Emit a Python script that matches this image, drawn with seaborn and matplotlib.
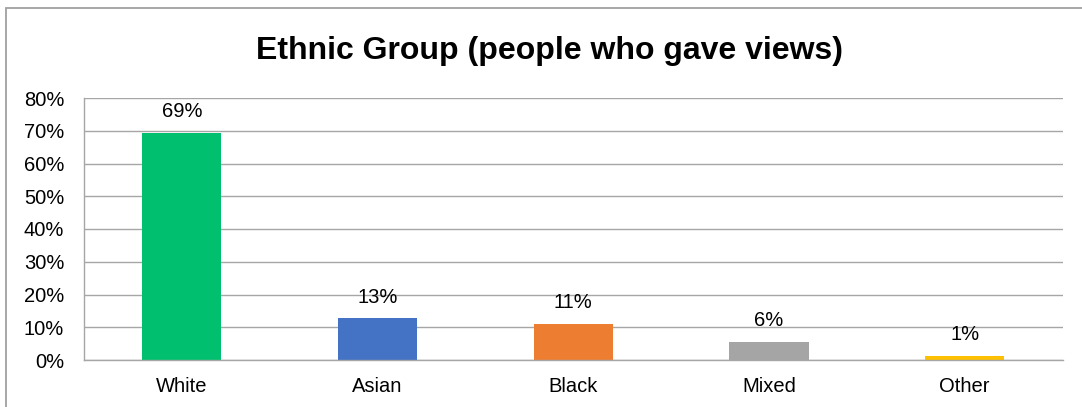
import matplotlib
matplotlib.use("Agg")
import matplotlib.pyplot as plt
import seaborn as sns
import pandas as pd
from matplotlib.patches import Rectangle
from matplotlib.ticker import PercentFormatter

# datos
grupos = ["White", "Asian", "Black", "Mixed", "Other"]
porcentajes = [0.693, 0.127, 0.11, 0.056, 0.012]
colores = ["#00BF6F", "#4472C4", "#ED7D31", "#A5A5A5", "#FFC000"]
yticks = [0, 0.1, 0.2, 0.3, 0.4, 0.5, 0.6, 0.7, 0.8]

sns.set_style("white")
plt.rcParams["font.family"] = ["Liberation Sans", "DejaVu Sans"]
plt.rcParams["text.color"] = "black"
plt.rcParams["xtick.color"] = "black"
plt.rcParams["ytick.color"] = "black"
gris = "#A6A6A6"
tam = 14.5

df = pd.DataFrame({"grupo": grupos, "pct": porcentajes})

fig = plt.figure(figsize=(10.82, 4.07), dpi=100)
ax = fig.add_axes([84 / 1082, 47 / 407, (1062.5 - 84) / 1082, 262 / 407])

sns.barplot(data=df, x="grupo", y="pct", hue="grupo", palette=colores,
            width=0.405, legend=False, ax=ax, saturation=1, linewidth=0)

# etiquetas de datos
for i, v in enumerate(porcentajes):
    ax.annotate(f"{v:.0%}", (i, v), xytext=(0, 11.3), textcoords="offset points",
                ha="center", va="baseline", fontsize=tam, color="black")

ax.set_xlim(-0.5, len(grupos) - 0.5)
ax.set_ylim(0, 0.8)
ax.set_yticks(yticks)
ax.yaxis.set_major_formatter(PercentFormatter(1.0, decimals=0))
ax.grid(axis="y", color=gris, linewidth=1)
ax.set_axisbelow(True)

ax.set_xticks(range(len(grupos)))
ax.set_xticklabels(grupos)
ax.set_xticks([i - 0.5 for i in range(len(grupos) + 1)], minor=True)
ax.tick_params(axis="x", which="major", length=0, pad=12.5, labelsize=tam, labelcolor="black")
ax.tick_params(axis="x", which="minor", length=5, width=1, color=gris, direction="out")
ax.tick_params(axis="y", length=4.3, width=1, color=gris, direction="out", pad=10,
               labelsize=tam, labelcolor="black")
ax.set_xlabel("")
ax.set_ylabel("")

for lado in ["top", "right"]:
    ax.spines[lado].set_visible(False)
for lado in ["left", "bottom"]:
    ax.spines[lado].set_color(gris)
    ax.spines[lado].set_linewidth(1)

fig.text(550 / 1082, 1 - 59 / 407, "Ethnic Group (people who gave views)",
         ha="center", va="baseline", fontsize=23, fontweight="bold", color="black")

# borde del area del grafico
fig.patches.append(Rectangle((6 / 1082, -0.1), 1.2, 1 - 8 / 407 + 0.1,
                             transform=fig.transFigure, fill=False,
                             edgecolor="#A0A0A0", linewidth=1.3))

plt.savefig("out.png", dpi=100)
